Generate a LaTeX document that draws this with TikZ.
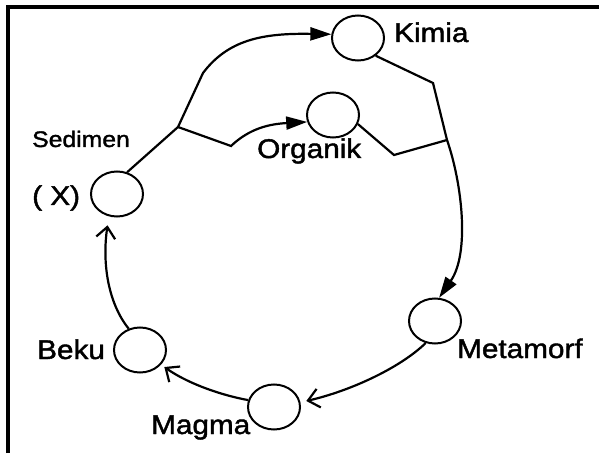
\documentclass[tikz,border=0pt]{standalone}
\usepackage{fontspec}
\setmainfont{Liberation Sans}
\newfontfamily\labelfont[FakeStretch=1.1, FakeBold=1.6]{Liberation Sans}
\usepackage{tikz}
\usetikzlibrary{shapes.geometric,arrows.meta,positioning,calc}

\begin{document}
\begin{tikzpicture}[
  x=1pt, y=1pt,
  every node/.style={font=\labelfont\fontsize{27}{30}\selectfont},
  rock/.style={ellipse, draw, line width=2pt, minimum width=52pt, minimum height=45pt, inner sep=0pt},
  label/.style={anchor=base west, inner sep=0pt},
  link/.style={line width=2.2pt},
  arrow/.style={link, -{Triangle[length=21pt, width=13pt]}},
  cycle/.style={link, -{Straight Barb[length=11pt, width=19pt, line width=2.2pt]}}
]
\useasboundingbox (0,0) rectangle (599,453);

% Frame
\draw[line width=3.5pt] (8,0) -- (8,446) -- (599,446);

% Rocks
\node[rock] (sed) at (117,259) {};
\node[rock] (kim) at (358,415) {};
\node[rock] (org) at (333,338) {};
\node[rock] (meta) at (435,132) {};
\node[rock] (mag) at (274,46) {};
\node[rock] (beku) at (140,103) {};

% Labels
\node[label, font=\labelfont\fontsize{22.5}{26}\selectfont] (sedlab) at (32,306) {Sedimen};
\node[label] (xlab) at (32,248) {( X)};
\node[label] (kimlab) at (394,411) {Kimia};
\node[label] (orglab) at (257,295) {Organik};
\node[label] (metalab) at (457,95) {Metamorf};
\node[label] (maglab) at (151,19) {Magma};
\node[label] (bekulab) at (37,94) {Beku};

% Branch points
\coordinate (j1) at (178,326);
\coordinate (j2) at (203,380);
\coordinate (j3) at (231,307);
\coordinate (k1) at (433,370);
\coordinate (k2) at (447,313);
\coordinate (o1) at (394,298);

% Sedimen to Kimia and Organik
\draw[arrow] (sed.65) -- (j1) -- (j2) .. controls (228,413) and (262,420) .. (kim.172);
\draw[arrow] (j1) -- (j3) .. controls (250,325) and (270,329) .. (org.195);

% Kimia and Organik to Metamorf
\draw[arrow] (kim.-45) -- (k1) -- (k2) .. controls (462,270) and (470,200) .. (meta.80);
\draw[link] (org.-20) -- (o1) -- (k2);

% Back round the cycle
\draw[cycle, shorten >=6pt] (meta.-113) .. controls (400,85) and (350,62) .. (mag.10);
\draw[cycle, shorten >=4pt] (mag.165) .. controls (225,57) and (190,68) .. (beku.-35);
\draw[cycle, shorten >=9pt] (beku.118) .. controls (108,150) and (102,190) .. (sed.-110);

\end{tikzpicture}
\end{document}
